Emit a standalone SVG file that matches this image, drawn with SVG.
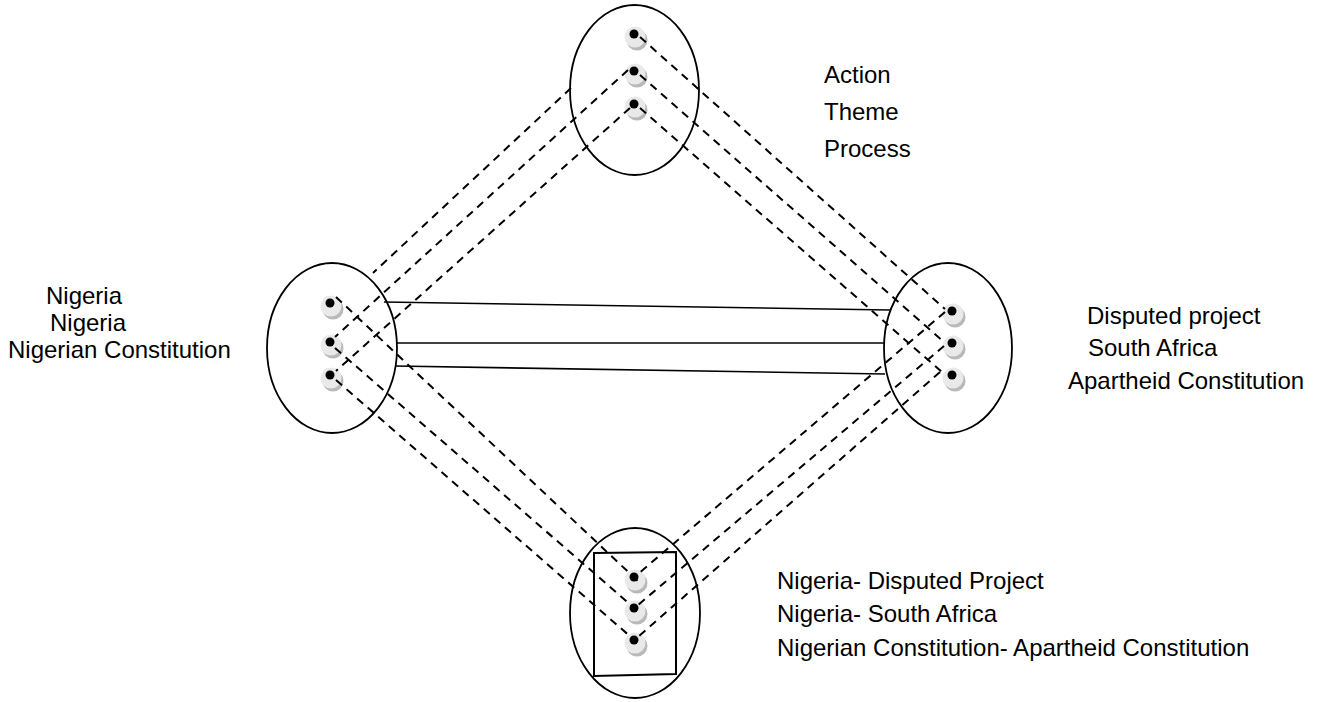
<svg xmlns="http://www.w3.org/2000/svg" width="1317" height="702" viewBox="0 0 1317 702">
  <style>
    .oval { fill: none; stroke: #000; stroke-width: 1.8; }
    .box { fill: none; stroke: #000; stroke-width: 2; }
    .dash { fill: none; stroke: #000; stroke-width: 2; stroke-dasharray: 8 6; }
    .solid { fill: none; stroke: #000; stroke-width: 1.6; }
    .lbl { font-family: "Liberation Sans", Arial, sans-serif; font-size: 24px; fill: #000; }
  </style>
  <defs>
    <!-- bead: shadowed grey disc with a black point -->
    <g id="bead">
      <circle cx="3" cy="6" r="10.5" fill="#b9b9b9"/>
      <circle cx="1" cy="3" r="10.5" fill="#e9e9e9"/>
      <circle cx="0" cy="0" r="4.5" fill="#000"/>
    </g>
  </defs>

  <rect width="1317" height="702" fill="#fff"/>

  <!-- ovals -->
  <g id="node-top">
    <ellipse class="oval" cx="634.5" cy="90" rx="64.5" ry="85"/>
    <use href="#bead" x="634" y="34"/>
    <use href="#bead" x="634" y="71"/>
    <use href="#bead" x="634" y="104"/>
  </g>
  <g id="node-left">
    <ellipse class="oval" cx="332" cy="348" rx="65" ry="85"/>
    <use href="#bead" x="330" y="303"/>
    <use href="#bead" x="330" y="342"/>
    <use href="#bead" x="330" y="375"/>
  </g>
  <g id="node-right">
    <ellipse class="oval" cx="948" cy="348" rx="64" ry="85"/>
    <use href="#bead" x="952" y="311"/>
    <use href="#bead" x="952" y="343"/>
    <use href="#bead" x="952" y="375"/>
  </g>
  <g id="node-bottom">
    <ellipse class="oval" cx="635" cy="613" rx="65" ry="85"/>
    <polygon class="box" points="594,553 676,552 676,674 594,676"/>
    <use href="#bead" x="634" y="577"/>
    <use href="#bead" x="634" y="608"/>
    <use href="#bead" x="634" y="640"/>
  </g>

  <!-- connectors -->
  <g id="connectors">
    <!-- left to right -->
    <line class="solid" x1="384" y1="302" x2="890" y2="310"/>
    <line class="solid" x1="396" y1="343" x2="885" y2="343"/>
    <line class="solid" x1="395" y1="366" x2="885" y2="374"/>
    <!-- top to left -->
    <line class="dash" x1="571" y1="88" x2="373" y2="273"/>
    <line class="dash" x1="628" y1="70" x2="335" y2="337"/>
    <line class="dash" x1="630" y1="108" x2="336" y2="371"/>
    <!-- top to right -->
    <line class="dash" x1="640" y1="37" x2="945" y2="309"/>
    <line class="dash" x1="640" y1="75" x2="944" y2="342"/>
    <line class="dash" x1="640" y1="108" x2="943" y2="373"/>
    <!-- right to bottom -->
    <line class="dash" x1="945" y1="312" x2="638" y2="574"/>
    <line class="dash" x1="944" y1="346" x2="638" y2="605"/>
    <line class="dash" x1="940" y1="372" x2="638" y2="637"/>
    <!-- left to bottom -->
    <line class="dash" x1="336" y1="297" x2="640" y2="583"/>
    <line class="dash" x1="335" y1="348" x2="632" y2="606"/>
    <line class="dash" x1="336" y1="380" x2="632" y2="638"/>
  </g>

  <!-- labels -->
  <g id="labels">
    <text class="lbl" x="824" y="83">Action</text>
    <text class="lbl" x="824" y="120">Theme</text>
    <text class="lbl" x="824" y="157">Process</text>
    <text class="lbl" x="46" y="304">Nigeria</text>
    <text class="lbl" x="50" y="331">Nigeria</text>
    <text class="lbl" x="8" y="358">Nigerian Constitution</text>
    <text class="lbl" x="1087" y="324">Disputed project</text>
    <text class="lbl" x="1088" y="356">South Africa</text>
    <text class="lbl" x="1068" y="389">Apartheid Constitution</text>
    <text class="lbl" x="777" y="589">Nigeria- Disputed Project</text>
    <text class="lbl" x="777" y="622">Nigeria- South Africa</text>
    <text class="lbl" x="777" y="656">Nigerian Constitution- Apartheid Constitution</text>
  </g>
</svg>
